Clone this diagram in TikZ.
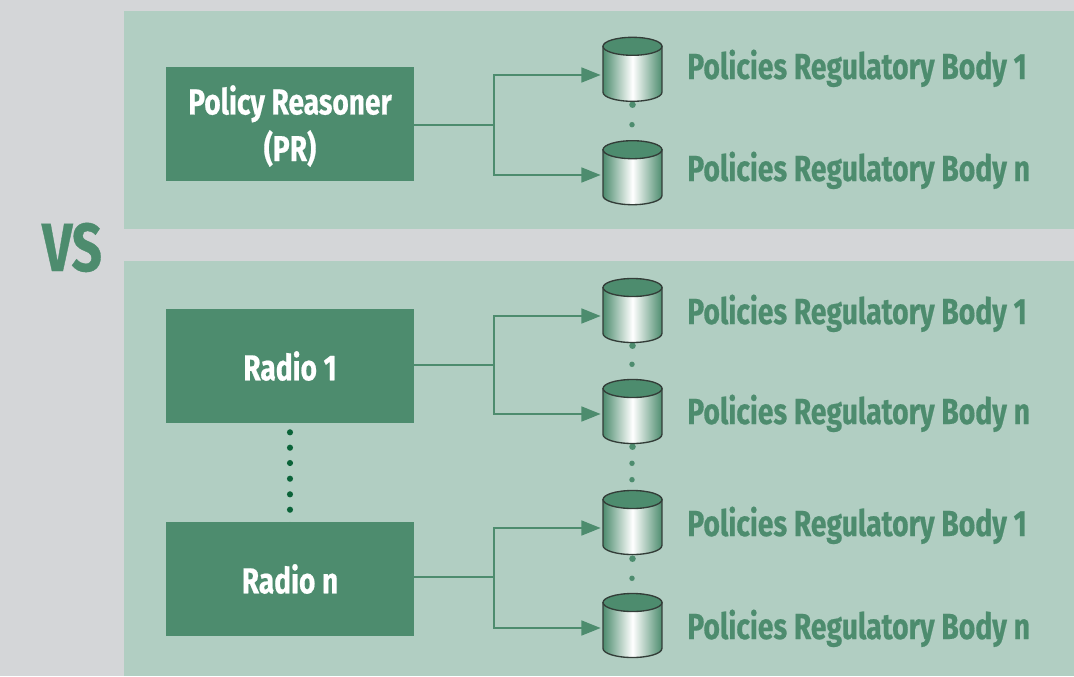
\documentclass[tikz,border=0pt]{standalone}
\usepackage{fontspec}
\setmainfont{Fira Sans}[BoldFont={Fira Sans Bold},BoldFeatures={FakeStretch=0.78,FakeBold=0.5}]
\usetikzlibrary{arrows.meta}
\definecolor{bggray}{HTML}{D4D6D8}
\definecolor{panelg}{HTML}{B1CEC2}
\definecolor{boxg}{HTML}{4D8C6E}
\definecolor{dotg}{HTML}{0B6339}
\definecolor{edgeg}{HTML}{333D38}
\tikzset{
  x=0.75pt,y=-0.75pt,
  panel/.style={fill=panelg,draw=none},
  box/.style={fill=boxg,draw=none,minimum width=186pt,minimum height=85.5pt,inner sep=0pt,align=center,text=white,font=\bfseries\fontsize{27}{35}\selectfont},
  lbl/.style={anchor=base west,inner sep=0pt,text=boxg,font=\bfseries\fontsize{27.2}{30}\selectfont},
  conn/.style={draw=boxg,line width=2pt},
  arr/.style={conn,-{Triangle[length=14.5pt,width=11pt]},shorten >=1.5pt},
  smalldot/.style={circle,fill=boxg,inner sep=0pt,minimum size=4.1pt},
  meddot/.style={circle,fill=boxg,inner sep=0pt,minimum size=4.9pt},
  bigdot/.style={circle,fill=dotg,inner sep=0pt,minimum size=4.6pt},
  anchorpt/.style={inner sep=0pt,minimum width=44.25pt,minimum height=0pt,draw=none},
}
\newcommand{\mycyl}[3]{% name, top y, arrow y
  \shade[left color=boxg,right color=boxg,middle color=white,draw=edgeg,line width=1pt]
    (603,#2+9) -- (603,#2+55) arc[start angle=180,end angle=360,x radius=22.1pt,y radius=6.75pt] -- (662,#2+9) -- cycle;
  \draw[fill=boxg,draw=edgeg,line width=1pt] (632.5,#2+9) ellipse[x radius=22.1pt,y radius=6.75pt];
  \node[anchorpt] (#1) at (632.5,#3) {};
}
\newcommand{\lowered}[1]{\raisebox{-1.5pt}[\height][\depth]{#1}}
\begin{document}
\begin{tikzpicture}
\useasboundingbox (0,0) rectangle (1074,676);
\fill[bggray] (0,0) rectangle (1074,676);
\fill[panel] (124,11) rectangle (1074,229);
\fill[panel] (124,261) rectangle (1074,676);

\node[anchor=base,inner sep=0pt,text=boxg,font=\bfseries\fontsize{51}{55}\selectfont] (vs) at (72,271) {VS};

\foreach \n/\y in {a/432.3,b/447.7,c/463,d/478.7,e/494.3,f/509.7,g/525}
  \node[bigdot] (rd\n) at (290,\y) {};

\node[box] (pr) at (290,124) {\lowered{Policy Reasoner}\\\lowered{(PR)}};
\node[box] (r1) at (290,366) {Radio 1};
\node[box] (rn) at (290,579) {Radio n};

\foreach \n/\y in {a/124.7,b/364.3,c/463.3,d/479.7,e/578.3}
  \node[smalldot] (dot\n) at (632,\y) {};
\foreach \n/\y in {a/104.7,b/345.7,c/446.7,d/558.7}
  \node[meddot] (mdot\n) at (632.5,\y) {};

\mycyl{c1}{37.3}{75}
\mycyl{c2}{140.7}{175}
\mycyl{c3}{278.5}{316}
\mycyl{c4}{379.5}{414}
\mycyl{c5}{490.5}{528}
\mycyl{c6}{593.5}{628}

\coordinate (j1) at (494,125);
\coordinate (j2) at (494,365);
\coordinate (j3) at (494,577);
\draw[conn] (pr.east |- j1) -- (j1);
\draw[conn] (r1.east |- j2) -- (j2);
\draw[conn] (rn.east |- j3) -- (j3);
\draw[arr] (j1) |- (c1.west);
\draw[arr] (j1) |- (c2.west);
\draw[arr] (j2) |- (c3.west);
\draw[arr] (j2) |- (c4.west);
\draw[arr] (j3) |- (c5.west);
\draw[arr] (j3) |- (c6.west);

\node[lbl] (t1) at (687,79) {Policies Regulatory Body 1};
\node[lbl] (t2) at (687,181) {Policies Regulatory Body n};
\node[lbl] (t3) at (687,324) {Policies Regulatory Body 1};
\node[lbl] (t4) at (687,424) {Policies Regulatory Body n};
\node[lbl] (t5) at (687,536) {Policies Regulatory Body 1};
\node[lbl] (t6) at (687,639) {Policies Regulatory Body n};
\end{tikzpicture}
\end{document}
